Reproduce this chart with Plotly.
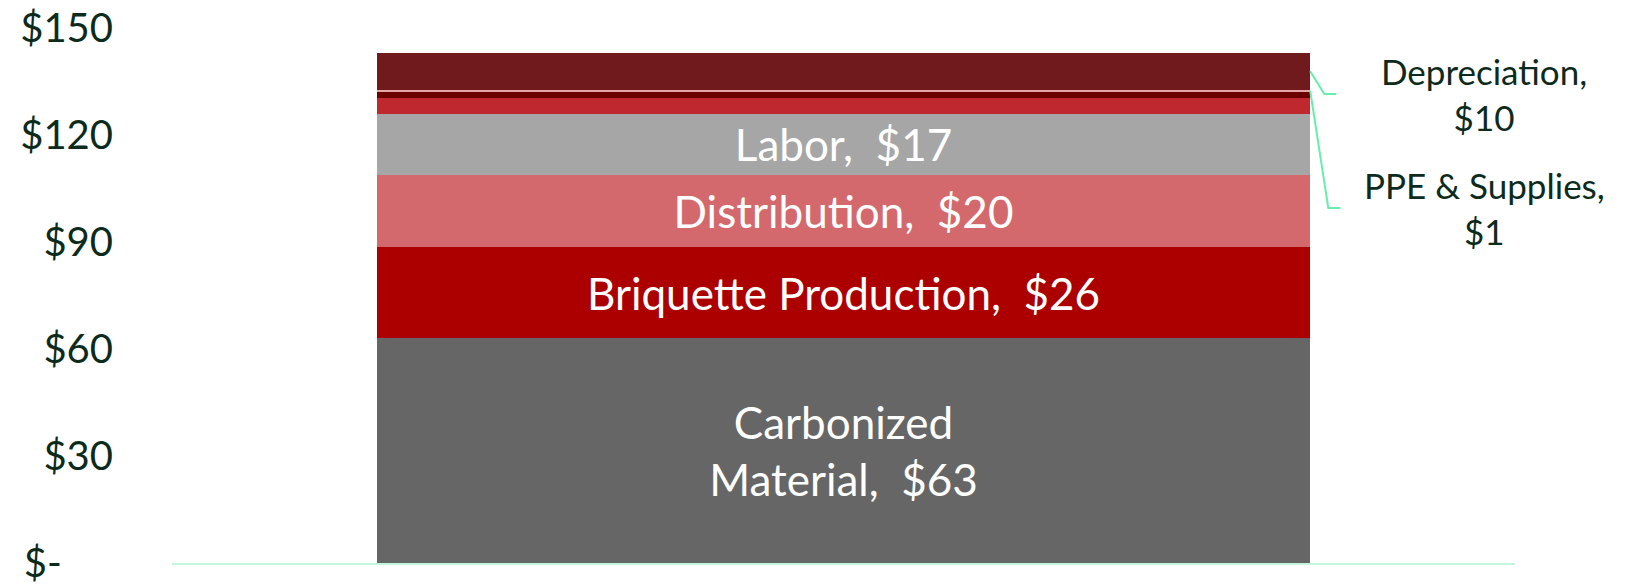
#%%Import Needed Packages
import plotly.graph_objects as go

#%%Data (cost per unit, $)
segment_names = ['Carbonized Material', 'Briquette Production', 'Distribution', 'Labor',
                 'Other', 'Other 2', 'PPE & Supplies', 'Depreciation']
segment_values = [63, 25.6, 20.2, 17.1, 4.5, 1.8, 0.5, 10.4]
# \u200c keeps Lato from joining "ti" into a ligature
segment_text = ['Carbonized<br>Material,\u00a0 $63', 'Briquette Produc\u200ction,\u00a0 $26',
                'Distribu\u200ction,\u00a0 $20', 'Labor,\u00a0 $17', '', '', '', '']
segment_colors = ['#666666', '#ac0000', '#d3696c', '#a6a6a6',
                  '#c0282f', '#6b0000', '#e8a6a6', '#711a1e']
category = ['Cost']

tick_vals = [0, 30, 60, 90, 120, 150]
tick_text = ['$-' + '\u00a0' * 5, '$30', '$60', '$90', '$120', '$150']

# labels outside the bar, with leader lines
outside_names = ['Depreciation', 'PPE & Supplies']
outside_text = ['Depreciation,<br>$10', 'PPE & Supplies,<br>$1']
outside_label_y = [131.5, 99.5]

#%%Figure
font_name = 'Lato, Open Sans, sans-serif'
text_green = '#0d2b1d'
leader_green = '#66eeaa'

fig = go.Figure()
for name, val, txt, col in zip(segment_names, segment_values, segment_text, segment_colors):
    fig.add_trace(go.Bar(x=category, y=[val], name=name, text=[txt],
                         textposition='inside', insidetextanchor='middle', textangle=0,
                         insidetextfont=dict(color='white', size=44, family=font_name),
                         marker=dict(color=col, line=dict(width=0)),
                         hovertemplate=name + ': $%{y}<extra></extra>'))

#%%Leader lines + outside labels
bar_half = (1 - 0.305) / 2
tops = []
run = 0
for v in segment_values:
    tops.append((run, run + v))
    run += v
for nm, txt, ly, dx_elbow, dx_end in zip(outside_names, outside_text, outside_label_y,
                                         [0.0105, 0.0135], [0.0195, 0.0225]):
    lo, hi = tops[segment_names.index(nm)]
    mid = (lo + hi) / 2
    x0 = bar_half
    fig.add_shape(type='path', xref='x', yref='y',
                  path='M %f,%f L %f,%f L %f,%f' % (x0, mid, x0 + dx_elbow, ly, x0 + dx_end, ly),
                  line=dict(color=leader_green, width=2))
    fig.add_annotation(x=0.477, y=ly, xref='x', yref='y', text=txt, showarrow=False,
                       align='center', xanchor='center', yanchor='middle',
                       font=dict(size=35, color=text_green, family=font_name))

# page body has an 8px margin, so the margins are shifted by that
fig.update_layout(barmode='stack', bargap=0.305, showlegend=False,
                  width=1626, height=587, plot_bgcolor='white', paper_bgcolor='white',
                  margin=dict(l=164, r=119, t=20, b=32, autoexpand=False),
                  font=dict(family=font_name, color=text_green))
fig.update_xaxes(range=[-0.5, 0.5], showticklabels=False, showgrid=False, zeroline=False,
                 showline=True, linecolor='#c6f5dd', linewidth=2, ticks='', automargin=False)
fig.update_yaxes(range=[0, 150], tickvals=tick_vals, ticktext=tick_text, showgrid=False,
                 zeroline=False, showline=False, ticks='', ticklabelstandoff=58, automargin=False,
                 ticklabeloverflow='allow',
                 tickfont=dict(size=40, color=text_green, family=font_name))

fig.write_html('out.html')
